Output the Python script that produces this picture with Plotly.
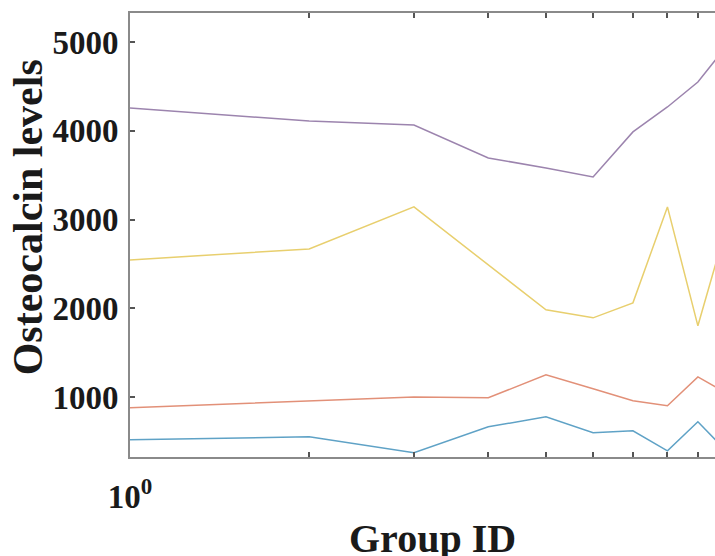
import plotly.graph_objects as go

group_id = [1, 2, 3, 4, 5, 6, 7, 8, 9, 10]
series_blue = [518, 552, 372, 664, 777, 597, 620, 394, 721, 406]
series_orange = [878, 957, 1000, 991, 1250, 1092, 957, 901, 1227, 1052]
series_yellow = [2545, 2669, 3142, 2485, 1982, 1892, 2061, 3142, 1802, 2872]
series_purple = [4257, 4110, 4065, 3694, 3580, 3480, 3987, 4268, 4550, 4935]

y_ticks = [1000, 2000, 3000, 4000, 5000]
x_tickvals = [1, 2, 3, 4, 5, 6, 7, 8, 9]
x_ticktext = ["10<sup>0</sup>", "", "", "", "", "", "", "", ""]

colors = ["#5fa2c6", "#e29078", "#e8cf6e", "#9c84ae"]
series = [series_blue, series_orange, series_yellow, series_purple]

fig = go.Figure()
for vals, c in zip(series, colors):
    fig.add_trace(go.Scatter(x=group_id, y=vals, mode="lines",
                             line=dict(color=c, width=1.5), showlegend=False))

tick_font = dict(family="Liberation Serif", size=33, color="#1a1a1a", weight="bold")
axis_col = "#8a8a8a"

fig.update_layout(
    width=715, height=556,
    margin=dict(l=130, r=0, t=13, b=99),
    paper_bgcolor="white", plot_bgcolor="white",
    xaxis=dict(type="log", range=[0, 0.983], tickvals=x_tickvals, ticktext=x_ticktext,
               ticks="inside", ticklen=5, tickwidth=1.5, tickcolor="#555",
               showline=True, linecolor=axis_col, linewidth=2, mirror="ticks",
               showgrid=False, zeroline=False, tickfont=tick_font,
               ticklabelstandoff=9, automargin=False),
    yaxis=dict(range=[324, 5327], tickvals=y_ticks,
               ticks="inside", ticklen=5, tickwidth=1.5, tickcolor="#555",
               showline=True, linecolor=axis_col, linewidth=2, mirror=False,
               showgrid=False, zeroline=False, tickfont=tick_font,
               ticklabelstandoff=3, automargin=False),
    annotations=[
        dict(text="<b>Osteocalcin levels</b>", xref="paper", yref="paper",
             x=-0.175, y=0.539, xanchor="center", yanchor="middle", textangle=-90,
             showarrow=False, font=dict(family="Liberation Serif", size=42, color="#1a1a1a")),
        dict(text="<b>Group ID</b>", xref="paper", yref="paper",
             x=0.517, y=-0.128, xanchor="center", yanchor="top",
             showarrow=False, font=dict(family="Liberation Serif", size=40, color="#1a1a1a")),
    ],
)

fig.write_html("out.html", config={"displayModeBar": False},
               post_script="document.body.style.margin='0';document.body.style.overflow='hidden';")
